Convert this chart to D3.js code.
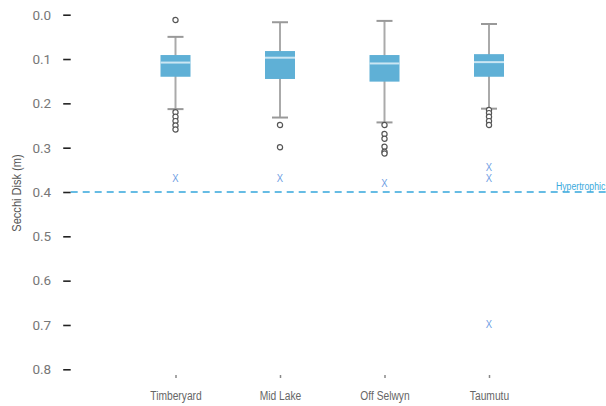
<!DOCTYPE html>
<html>
<head>
<meta charset="utf-8">
<script src="https://cdn.jsdelivr.net/npm/d3@7"></script>
<style>
  html, body { margin: 0; padding: 0; background: #fff; }
  svg { display: block; }
  .narrow { font-family: "Liberation Sans", Arial, sans-serif; }
</style>
</head>
<body>
<svg id="chart" width="606" height="406"></svg>
<script>
// Secchi disk depth by site (m); smaller depth plotted at top
const categories = ["Timberyard", "Mid Lake", "Off Selwyn", "Taumutu"];
const whiskerTop = [0.050, 0.017, 0.014, 0.021];
const q1 = [0.091, 0.082, 0.091, 0.089];
const medians = [0.108, 0.097, 0.110, 0.107];
const q3 = [0.140, 0.145, 0.151, 0.140];
const whiskerBottom = [0.213, 0.232, 0.243, 0.212];
const outliers = [
  [0.012, 0.220, 0.230, 0.240, 0.250, 0.259],
  [0.249, 0.299],
  [0.249, 0.269, 0.280, 0.298, 0.309, 0.313],
  [0.215, 0.222, 0.230, 0.240, 0.249]
];
// Individual flagged readings drawn as "x" markers
const crossMarks = [
  [0.368],
  [0.368],
  [0.380],
  [0.343, 0.369, 0.697]
];
const yTicks = [0, 0.1, 0.2, 0.3, 0.4, 0.5, 0.6, 0.7, 0.8];
const thresholdValue = 0.4;
const thresholdLabel = "Hypertrophic";

// condensed look: squeeze Liberation Sans horizontally
const SQUEEZE = 0.82;

const svg = d3.select("#chart");

const y = d3.scaleLinear().domain([0, 0.8]).range([14.7, 369.3]);
const x = d3.scalePoint().domain(categories).range([175.5, 489]);

// Y axis
const yAxis = svg.append("g")
  .attr("transform", "translate(70.7,0)")
  .call(d3.axisLeft(y).tickValues(yTicks).tickFormat(d3.format(".1f")).tickSize(7.5).tickPadding(12));
yAxis.select(".domain").remove();
yAxis.selectAll(".tick line").attr("stroke", "#222").attr("stroke-width", 1.6);
yAxis.selectAll(".tick text")
  .attr("fill", "#777")
  .style("font-family", "Roboto, 'Liberation Sans', sans-serif")
  .style("font-size", "13.5px");

// X axis
const xAxis = svg.append("g")
  .attr("transform", "translate(0,375)")
  .call(d3.axisBottom(x).tickSize(3).tickPadding(13));
xAxis.select(".domain").remove();
xAxis.selectAll(".tick line").attr("stroke", "#888").attr("stroke-width", 1.5);
xAxis.selectAll(".tick text")
  .attr("class", "narrow")
  .attr("fill", "#666")
  .attr("transform", `scale(${SQUEEZE},1)`)
  .style("font-size", "12.5px");

// Y axis title
svg.append("text")
  .attr("class", "narrow")
  .attr("transform", `translate(21,193) rotate(-90) scale(${SQUEEZE},1)`)
  .attr("text-anchor", "middle")
  .attr("fill", "#555")
  .style("font-size", "13.5px")
  .text("Secchi Disk (m)");

// Threshold line
svg.append("line")
  .attr("x1", 70.7).attr("x2", 606)
  .attr("y1", y(thresholdValue)).attr("y2", y(thresholdValue))
  .attr("stroke", "#35a7dc")
  .attr("stroke-width", 1.5)
  .attr("stroke-dasharray", "7,5");
svg.append("text")
  .attr("class", "narrow")
  .attr("transform", `translate(556,${y(thresholdValue) - 2}) scale(0.79,1)`)
  .attr("fill", "#3aa9dc")
  .style("font-size", "11px")
  .text(thresholdLabel);

// Box plots
const boxW = 30, capW = 16;
const data = categories.map((c, i) => ({
  cat: c, lo: whiskerTop[i], q1: q1[i], med: medians[i], q3: q3[i], hi: whiskerBottom[i],
  out: outliers[i], marks: crossMarks[i]
}));

const g = svg.append("g").selectAll("g").data(data).join("g")
  .attr("transform", d => `translate(${x(d.cat)},0)`);

g.append("line")
  .attr("x1", 0).attr("x2", 0)
  .attr("y1", d => y(d.lo)).attr("y2", d => y(d.hi))
  .attr("stroke", "#aaa").attr("stroke-width", 2);
g.selectAll(".cap").data(d => [d.lo, d.hi]).join("line")
  .attr("class", "cap")
  .attr("x1", -capW / 2).attr("x2", capW / 2)
  .attr("y1", v => y(v)).attr("y2", v => y(v))
  .attr("stroke", "#999").attr("stroke-width", 2);
g.append("rect")
  .attr("x", -boxW / 2).attr("width", boxW)
  .attr("y", d => y(d.q1)).attr("height", d => y(d.q3) - y(d.q1))
  .attr("fill", "#5fb0d6");
g.append("line")
  .attr("x1", -boxW / 2).attr("x2", boxW / 2)
  .attr("y1", d => y(d.med)).attr("y2", d => y(d.med))
  .attr("stroke", "#cbe6f3").attr("stroke-width", 2);
g.selectAll("circle").data(d => d.out).join("circle")
  .attr("cx", 0).attr("cy", v => y(v)).attr("r", 2.6)
  .attr("fill", "#fff").attr("stroke", "#555").attr("stroke-width", 1.2);
g.selectAll(".mark").data(d => d.marks).join("text")
  .attr("class", "mark narrow")
  .attr("transform", `scale(${SQUEEZE},1)`)
  .attr("x", 0).attr("y", v => y(v))
  .attr("dy", "0.36em")
  .attr("text-anchor", "middle")
  .attr("fill", "#6d9de3")
  .style("font-size", "11.5px")
  .text("X");
</script>
</body>
</html>
